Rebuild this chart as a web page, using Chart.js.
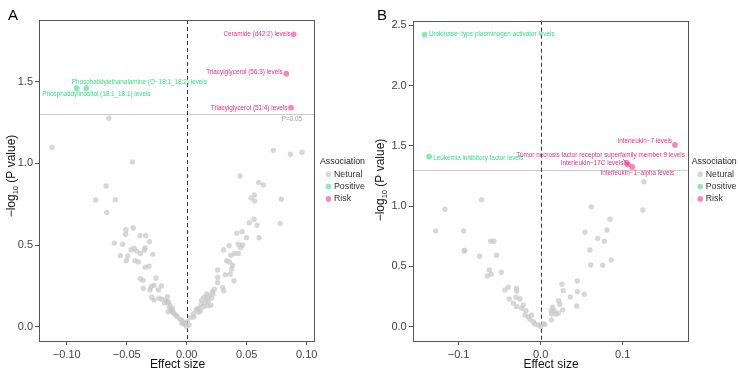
<!DOCTYPE html>
<html>
<head>
<meta charset="utf-8">
<script src="https://cdn.jsdelivr.net/npm/chart.js@4.4.0/dist/chart.umd.min.js"></script>
<style>
  html, body { margin: 0; padding: 0; background: #fff; }
  #wrap { position: relative; width: 738px; height: 374px; }
  canvas { position: absolute; top: 0; }
  #chartA { left: 0; }
  #chartB { left: 369px; }
</style>
</head>
<body>
<div id="wrap">
  <canvas id="chartA" width="369" height="374"></canvas>
  <canvas id="chartB" width="369" height="374"></canvas>
</div>
<script>
// ---- panel A data: [effect size, -log10 p] ----
const aNeutral = [
  [-0.1122, 1.098], [-0.065, 1.276], [-0.0453, 1.009], [-0.0672, 0.862], [-0.0758, 0.776],
  [-0.0595, 0.778], [-0.0667, 0.70], [-0.0506, 0.594], [-0.0445, 0.604], [-0.0508, 0.566],
  [-0.0603, 0.512], [-0.0533, 0.505], [-0.0389, 0.557], [-0.0342, 0.557], [-0.0311, 0.521],
  [-0.0439, 0.48], [-0.0464, 0.47], [-0.0417, 0.463], [-0.0386, 0.449], [-0.0353, 0.47],
  [-0.0347, 0.482], [-0.0553, 0.435], [-0.0492, 0.433], [-0.0283, 0.443], [-0.0503, 0.404],
  [-0.0431, 0.404], [-0.0403, 0.396], [-0.0345, 0.364], [-0.0314, 0.37], [-0.0386, 0.294],
  [-0.0364, 0.284], [-0.0256, 0.298], [-0.0361, 0.235], [-0.0297, 0.245], [-0.0272, 0.253],
  [-0.0211, 0.249], [-0.0306, 0.225], [-0.0236, 0.225], [-0.0292, 0.18], [-0.0272, 0.163],
  [-0.0231, 0.174], [-0.0208, 0.168], [-0.0161, 0.184], [-0.0175, 0.163], [-0.0153, 0.153],
  [-0.0142, 0.133], [-0.012, 0.113], [-0.0128, 0.098], [-0.0106, 0.082], [-0.0078, 0.061],
  [-0.0056, 0.045], [-0.0036, 0.031], [-0.0017, 0.017], [-0.0003, 0.003], [-0.0165, 0.15],
  [-0.0145, 0.12], [-0.013, 0.105], [-0.009, 0.07], [-0.004, 0.02], [-0.0185, 0.145],
  [-0.0155, 0.09], [-0.0115, 0.09],
  [0.0722, 1.08], [0.0864, 1.056], [0.0961, 1.068], [0.0444, 0.923], [0.06, 0.884],
  [0.0639, 0.868], [0.0564, 0.807], [0.0536, 0.788], [0.0567, 0.77], [0.0789, 0.78],
  [0.0561, 0.658], [0.0522, 0.637], [0.0586, 0.621], [0.0778, 0.633], [0.0603, 0.545],
  [0.0417, 0.572], [0.0461, 0.582], [0.0497, 0.545], [0.0355, 0.496], [0.043, 0.505],
  [0.0467, 0.5], [0.045, 0.484], [0.0308, 0.47], [0.0397, 0.449], [0.043, 0.449],
  [0.0367, 0.437], [0.0333, 0.404], [0.0355, 0.396], [0.0383, 0.376], [0.0375, 0.353],
  [0.0258, 0.347], [0.0322, 0.318], [0.0363, 0.323], [0.0394, 0.28], [0.0258, 0.302],
  [0.0258, 0.27], [0.03, 0.241], [0.0308, 0.22], [0.023, 0.229], [0.0214, 0.214],
  [0.0167, 0.2], [0.0189, 0.188], [0.0144, 0.18], [0.0208, 0.174], [0.0125, 0.163],
  [0.018, 0.157], [0.0153, 0.143], [0.02, 0.131], [0.0139, 0.122], [0.0105, 0.114],
  [0.0078, 0.102], [0.0097, 0.088], [0.0055, 0.078], [0.0033, 0.057], [0.0005, 0.031],
  [-0.0022, 0.021], [-0.0042, 0.041], [0.012, 0.14], [0.016, 0.17], [0.009, 0.11],
  [0.006, 0.06], [0.002, 0.01], [0.022, 0.2], [0.0175, 0.128], [0.0115, 0.095]
];
const aPositive = [[-0.0837, 1.46], [-0.0917, 1.46]];
const aPositiveNames = [
  "Phosphatidylethanolamine (O\u221218:1_18:2) levels",
  "Phosphatidylinositol (18:1_18:1) levels"
];
const aRisk = [[0.0892, 1.79], [0.083, 1.549], [0.0869, 1.341]];
const aRiskNames = ["Ceramide (d42:2) levels", "Triacylglycerol (56:3) levels", "Triacylglycerol (51:4) levels"];
const aXTicks = [-0.1, -0.05, 0, 0.05, 0.1];
const aYTicks = [0, 0.5, 1, 1.5];

// ---- panel B data ----
const bNeutral = [
  [-0.128, 0.794], [-0.1167, 0.974], [-0.0939, 0.794], [-0.0932, 0.628], [-0.0927, 0.635],
  [-0.072, 1.054], [-0.0744, 0.584], [-0.057, 0.709], [-0.061, 0.709], [-0.0537, 0.593],
  [-0.0627, 0.47], [-0.0651, 0.421], [-0.0602, 0.435], [-0.048, 0.451], [-0.0435, 0.305],
  [-0.0395, 0.327], [-0.0293, 0.319], [-0.0293, 0.294], [-0.0383, 0.23], [-0.0301, 0.244],
  [-0.0252, 0.23], [-0.0334, 0.194], [-0.0212, 0.18], [-0.0293, 0.166], [-0.0232, 0.153],
  [-0.018, 0.133], [-0.0191, 0.097], [-0.0151, 0.083], [-0.011, 0.097], [-0.013, 0.061],
  [-0.009, 0.041], [-0.007, 0.022], [-0.003, 0.014], [0.0, 0.002], [0.0032, 0.022],
  [0.126, 1.203], [0.1244, 0.968], [0.0617, 0.993], [0.054, 0.783], [0.0695, 0.733],
  [0.0809, 0.802], [0.0776, 0.709], [0.0845, 0.891], [0.0601, 0.636], [0.061, 0.512],
  [0.0756, 0.509], [0.0861, 0.553], [0.0447, 0.379], [0.026, 0.352], [0.0276, 0.299],
  [0.0447, 0.291], [0.0532, 0.269], [0.0361, 0.246], [0.0439, 0.172], [0.022, 0.216],
  [0.0235, 0.186], [0.0268, 0.139], [0.0146, 0.161], [0.0126, 0.13], [0.0166, 0.133],
  [0.0134, 0.105], [0.0187, 0.105], [0.0215, 0.111], [0.013, 0.056], [0.005, 0.02]
];
const bPositive = [[-0.1415, 2.423], [-0.1359, 1.411]];
const bPositiveNames = ["Urokinase\u2212type plasminogen activator levels", "Leukemia inhibitory factor levels"];
const bRisk = [[0.1638, 1.508], [0.1065, 1.345], [0.1045, 1.36], [0.1117, 1.325]];
const bRiskNames = [
  "Interleukin\u22127 levels",
  "Tumor necrosis factor receptor superfamily member 9 levels",
  "Interleukin\u221217C levels",
  "Interleukin\u22121\u2212alpha levels"
];
const bXTicks = [-0.1, 0, 0.1];
const bYTicks = [0, 0.5, 1, 1.5, 2, 2.5];

const threshold = -Math.log10(0.05);
const legendItems = ["Netural", "Positive", "Risk"];

const FONT = "'Liberation Sans', Arial, Helvetica, sans-serif";
const grey = "rgba(200,200,200,0.72)";
const greenPt = "rgba(70,222,145,0.65)";
const pinkPt = "rgba(236,64,143,0.62)";
const greenTxt = "#35dc86";
const pinkTxt = "#e4328a";

function toPts(arr) {
  return arr.map(function (p) { return { x: p[0], y: p[1] }; });
}

function minus(s) {
  return s.replace("-", "\u2212");
}

const decor = {
  id: "decor",
  beforeDatasetsDraw(chart, args, o) {
    const ctx = chart.ctx;
    const a = chart.chartArea;
    const xs = chart.scales.x, ys = chart.scales.y;
    ctx.save();
    // p = 0.05 line
    const yt = Math.round(ys.getPixelForValue(threshold)) + 0.5;
    ctx.strokeStyle = "#cfcbc4";
    ctx.lineWidth = 1.2;
    ctx.beginPath();
    ctx.moveTo(a.left, yt);
    ctx.lineTo(a.right, yt);
    ctx.stroke();
    // zero line
    const x0 = Math.round(xs.getPixelForValue(0)) + 0.5;
    ctx.strokeStyle = "#333";
    ctx.lineWidth = 1;
    ctx.setLineDash([4, 3]);
    ctx.beginPath();
    ctx.moveTo(x0, a.top);
    ctx.lineTo(x0, a.bottom);
    ctx.stroke();
    ctx.restore();
  },
  afterDatasetsDraw(chart, args, o) {
    const ctx = chart.ctx;
    const a = chart.chartArea;
    const xs = chart.scales.x, ys = chart.scales.y;
    ctx.save();
    // panel border
    ctx.strokeStyle = "#555";
    ctx.lineWidth = 1;
    ctx.strokeRect(Math.round(a.left) + 0.5, Math.round(a.top) + 0.5,
      Math.round(a.right - a.left), Math.round(a.bottom - a.top));

    // point labels
    ctx.font = "6.35px " + FONT;
    ctx.textBaseline = "middle";
    o.labels.forEach(function (l) {
      const px = xs.getPixelForValue(l.pt[0]);
      const py = ys.getPixelForValue(l.pt[1]);
      ctx.fillStyle = l.color;
      ctx.textAlign = l.align;
      ctx.fillText(l.text, px + l.dx, py + l.dy);
      if (l.line) {
        ctx.strokeStyle = l.color;
        ctx.lineWidth = 0.8;
        ctx.beginPath();
        ctx.moveTo(px + l.line[0], py + l.line[1]);
        ctx.lineTo(px, py);
        ctx.stroke();
      }
    });

    if (o.pNote) {
      ctx.fillStyle = "#9a9a9a";
      ctx.textAlign = "right";
      ctx.fillText("P=0.05", a.right - 12, ys.getPixelForValue(threshold) + 5.5);
    }

    // legend
    const lx = o.legendX, ly = o.legendY;
    ctx.textAlign = "left";
    ctx.fillStyle = "#222";
    ctx.font = "8.8px " + FONT;
    ctx.fillText("Association", lx, ly);
    const cols = [grey, greenPt, pinkPt];
    legendItems.forEach(function (name, i) {
      const yy = ly + 12.3 * (i + 1);
      ctx.fillStyle = cols[i];
      ctx.beginPath();
      ctx.arc(lx + 8.5, yy, 2.8, 0, Math.PI * 2);
      ctx.fill();
      ctx.fillStyle = "#333";
      ctx.fillText(name, lx + 14, yy);
    });

    // panel letter
    ctx.fillStyle = "#000";
    ctx.font = "15px " + FONT;
    ctx.textBaseline = "alphabetic";
    ctx.fillText(o.letter, o.letterX, 20);

    // x title
    ctx.font = "12px " + FONT;
    ctx.textAlign = "center";
    ctx.textBaseline = "middle";
    ctx.fillStyle = "#111";
    ctx.fillText("Effect size", (a.left + a.right) / 2 + 1, 365);

    // y title with subscript
    ctx.translate(o.yTitleX, o.yTitleY);
    ctx.rotate(-Math.PI / 2);
    ctx.textAlign = "left";
    const p1 = "\u2212log", p3 = " (P value)";
    ctx.font = "12px " + FONT;
    const w1 = ctx.measureText(p1).width;
    ctx.font = "7.5px " + FONT;
    const w2 = ctx.measureText("10").width;
    ctx.font = "12px " + FONT;
    const w3 = ctx.measureText(p3).width;
    let sx = -(w1 + w2 + w3) / 2;
    ctx.fillText(p1, sx, 0);
    ctx.font = "7.5px " + FONT;
    ctx.fillText("10", sx + w1, 3.5);
    ctx.font = "12px " + FONT;
    ctx.fillText(p3, sx + w1 + w2, 0);
    ctx.restore();
  }
};

function makePanel(id, cfg) {
  const ctx = document.getElementById(id).getContext("2d");
  return new Chart(ctx, {
    type: "scatter",
    data: {
      datasets: [
        { label: "Netural", data: toPts(cfg.neutral), backgroundColor: grey, pointRadius: 2.7, borderWidth: 0 },
        { label: "Positive", data: toPts(cfg.positive), backgroundColor: greenPt, pointRadius: 2.9, borderWidth: 0 },
        { label: "Risk", data: toPts(cfg.risk), backgroundColor: pinkPt, pointRadius: 2.9, borderWidth: 0 }
      ]
    },
    options: {
      responsive: false,
      animation: false,
      events: [],
      layout: { padding: { left: 0, right: cfg.padRight, top: cfg.top, bottom: 0 } },
      scales: {
        x: {
          type: "linear",
          min: cfg.xMin,
          max: cfg.xMax,
          afterBuildTicks: function (s) { s.ticks = cfg.xTicks.map(function (v) { return { value: v }; }); },
          afterFit: function (s) { s.height = 374 - cfg.bottom; },
          ticks: {
            color: "#444",
            font: { family: FONT, size: 11 },
            padding: 3,
            maxRotation: 0,
            callback: function (v) { return minus(v.toFixed(cfg.xDec)); }
          },
          grid: { drawOnChartArea: false, drawTicks: true, tickLength: 4, color: "#555" },
          border: { display: false }
        },
        y: {
          type: "linear",
          min: cfg.yMin,
          max: cfg.yMax,
          afterBuildTicks: function (s) { s.ticks = cfg.yTicks.map(function (v) { return { value: v }; }); },
          afterFit: function (s) { s.width = cfg.left; },
          ticks: {
            color: "#444",
            font: { family: FONT, size: 11 },
            padding: 2,
            callback: function (v) { return v.toFixed(1); }
          },
          grid: { drawOnChartArea: false, drawTicks: true, tickLength: 4, color: "#555" },
          border: { display: false }
        }
      },
      plugins: {
        legend: { display: false },
        tooltip: { enabled: false },
        decor: cfg.decor
      }
    },
    plugins: [decor]
  });
}

makePanel("chartA", {
  neutral: aNeutral, positive: aPositive, risk: aRisk,
  xMin: -0.1231, xMax: 0.1061, yMin: -0.0875, yMax: 1.878,
  xTicks: aXTicks, yTicks: aYTicks, xDec: 2,
  left: 39, padRight: 369 - 314, top: 20, bottom: 341,
  decor: {
    letter: "A", letterX: 8, legendX: 320, legendY: 162, yTitleX: 12, yTitleY: 176, pNote: true,
    labels: [
      { pt: aRisk[0], text: aRiskNames[0], color: pinkTxt, align: "right", dx: -3, dy: 0.3 },
      { pt: aRisk[1], text: aRiskNames[1], color: pinkTxt, align: "right", dx: -3.5, dy: -1.4 },
      { pt: aRisk[2], text: aRiskNames[2], color: pinkTxt, align: "right", dx: -3.5, dy: 0.5 },
      { pt: aPositive[0], text: aPositiveNames[0], color: greenTxt, align: "left", dx: -14.6, dy: -6 },
      { pt: aPositive[1], text: aPositiveNames[1], color: greenTxt, align: "left", dx: -34.4, dy: 6 }
    ]
  }
});

makePanel("chartB", {
  neutral: bNeutral, positive: bPositive, risk: bRisk,
  xMin: -0.156, xMax: 0.1788, yMin: -0.119, yMax: 2.539,
  xTicks: bXTicks, yTicks: bYTicks, xDec: 1,
  left: 412.7 - 369, padRight: 369 - (687.3 - 369), top: 20.7, bottom: 341,
  decor: {
    letter: "B", letterX: 8, legendX: 322.7, legendY: 162, yTitleX: 12, yTitleY: 180, pNote: false,
    labels: [
      { pt: bPositive[0], text: bPositiveNames[0], color: greenTxt, align: "left", dx: 4.3, dy: 0 },
      { pt: bPositive[1], text: bPositiveNames[1], color: greenTxt, align: "left", dx: 4, dy: 2 },
      { pt: bRisk[0], text: bRiskNames[0], color: pinkTxt, align: "right", dx: -3, dy: -3.6 },
      { pt: bRisk[1], text: bRiskNames[1], color: pinkTxt, align: "center", dx: -27.4, dy: -9.6, line: [-5, -5.5] },
      { pt: bRisk[2], text: bRiskNames[2], color: pinkTxt, align: "right", dx: -3, dy: 0.5 },
      { pt: bRisk[3], text: bRiskNames[3], color: pinkTxt, align: "center", dx: 5, dy: 6 }
    ]
  }
});
</script>
</body>
</html>
